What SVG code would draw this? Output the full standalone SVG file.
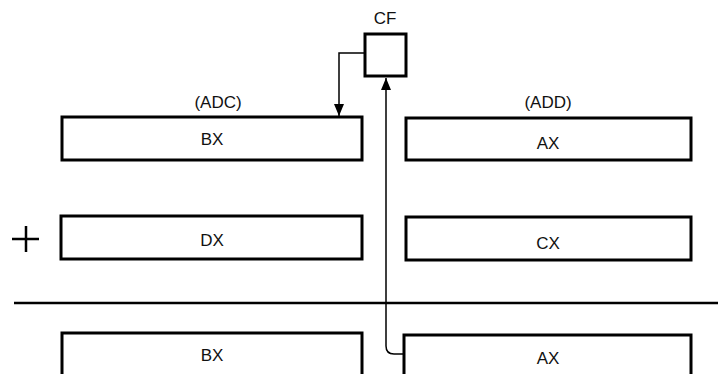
<svg xmlns="http://www.w3.org/2000/svg" width="718" height="374" viewBox="0 0 718 374">
  <defs>
    <style>
      .reg { fill: #fff; stroke: #000; stroke-width: 3; }
      .lbl { font-family: "Liberation Sans", Arial, sans-serif; font-size: 17px; fill: #111; text-anchor: middle; }
      .wire { fill: none; stroke: #000; stroke-width: 1.5; }
    </style>
    <marker id="arrow" markerWidth="12" markerHeight="10" refX="12" refY="5" orient="auto" markerUnits="userSpaceOnUse" viewBox="0 0 12 10">
      <path d="M0,0 L12,5 L0,10 Z" fill="#000"/>
    </marker>
  </defs>

  <rect width="718" height="374" fill="#fff"/>

  <!-- carry flag -->
  <g id="cf">
    <text class="lbl" x="385" y="24">CF</text>
    <rect class="reg" x="365" y="34" width="41" height="42"/>
  </g>

  <!-- first operand row -->
  <g id="bx-top">
    <text class="lbl" x="218" y="108">(ADC)</text>
    <rect class="reg" x="62" y="117" width="300" height="43"/>
    <text class="lbl" x="212" y="145">BX</text>
  </g>
  <g id="ax-top">
    <text class="lbl" x="548" y="108">(ADD)</text>
    <rect class="reg" x="406" y="118" width="285" height="42"/>
    <text class="lbl" x="548" y="149">AX</text>
  </g>

  <!-- second operand row -->
  <g id="plus">
    <path d="M12,239 H39 M26,226 V252" stroke="#000" stroke-width="2.5" fill="none"/>
  </g>
  <g id="dx">
    <rect class="reg" x="61" y="216" width="301" height="43"/>
    <text class="lbl" x="212" y="246">DX</text>
  </g>
  <g id="cx">
    <rect class="reg" x="406" y="217" width="285" height="43"/>
    <text class="lbl" x="548" y="249">CX</text>
  </g>

  <!-- sum rule -->
  <g id="rule">
    <line x1="14" y1="303" x2="718" y2="303" stroke="#000" stroke-width="2.5"/>
  </g>

  <!-- result row -->
  <g id="bx-sum">
    <rect class="reg" x="62" y="333" width="300" height="50"/>
    <text class="lbl" x="212" y="361">BX</text>
  </g>
  <g id="ax-sum">
    <rect class="reg" x="404" y="335" width="287" height="50"/>
    <text class="lbl" x="548" y="364">AX</text>
  </g>

  <!-- connectors -->
  <g id="connectors">
    <path class="wire" d="M365,53 H339 V116" marker-end="url(#arrow)"/>
    <path class="wire" d="M404,354 H394 Q386,354 386,346 V78" marker-end="url(#arrow)"/>
  </g>
</svg>
